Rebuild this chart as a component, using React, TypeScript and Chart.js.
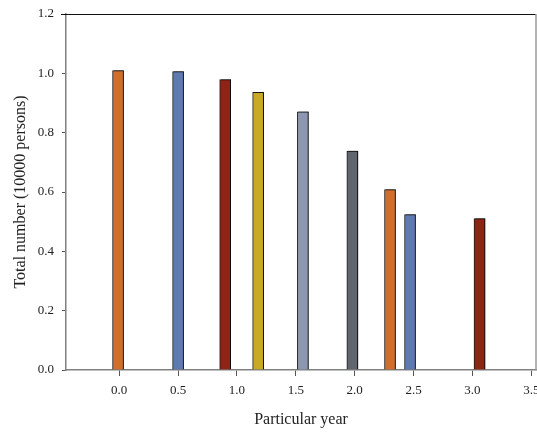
import React, { useEffect, useRef } from "react";
import { Chart, registerables } from "chart.js";

Chart.register(...registerables);

const xPositions = [-0.01, 0.5, 0.9, 1.18, 1.56, 1.98, 2.3, 2.47, 3.06];
const totals = [1.009, 1.006, 0.979, 0.936, 0.87, 0.738, 0.608, 0.524, 0.51];
const barColors = [
  "#CE6F2D",
  "#5F7AB3",
  "#8C2513",
  "#C8A923",
  "#8E97B1",
  "#61656D",
  "#CE6F2D",
  "#5F7AB3",
  "#8C2513",
];
const xTicks = [0, 0.5, 1, 1.5, 2, 2.5, 3, 3.5];
const yTicks = [0, 0.2, 0.4, 0.6, 0.8, 1.0, 1.2];
const xTitle = "Particular year";
const yTitle = "Total number (10000 persons)";

const FONT = "'Liberation Serif', 'Times New Roman', serif";

const framePlugin = {
  id: "frame",
  beforeDatasetsDraw(chart: any) {
    const ctx = chart.ctx;
    ctx.save();
    ctx.shadowColor = "rgba(0,0,0,0.45)";
    ctx.shadowOffsetX = 1.5;
    ctx.shadowOffsetY = -0.5;
    ctx.shadowBlur = 0.5;
  },
  afterDatasetsDraw(chart: any) {
    chart.ctx.restore();
  },
  afterDraw(chart: any) {
    const { ctx, chartArea } = chart;
    ctx.save();
    ctx.strokeStyle = "#111";
    ctx.lineWidth = 1;
    ctx.beginPath();
    ctx.moveTo(chartArea.left - 5, Math.round(chartArea.top) + 0.5);
    ctx.lineTo(chartArea.right, Math.round(chartArea.top) + 0.5);
    ctx.stroke();
    ctx.strokeStyle = "#9a9a9a";
    ctx.lineWidth = 1.5;
    ctx.beginPath();
    ctx.moveTo(chartArea.right, chartArea.top);
    ctx.lineTo(chartArea.right, chartArea.bottom);
    ctx.stroke();
    ctx.restore();
  },
};

export default function App() {
  const ref = useRef<HTMLCanvasElement | null>(null);
  useEffect(() => {
    if (!ref.current) return;
    const chart = new Chart(ref.current, {
      type: "bar",
      data: {
        datasets: [
          {
            data: xPositions.map((x, i) => ({ x, y: totals[i] })),
            backgroundColor: barColors,
            borderColor: "#1a1a1a",
            borderWidth: 1,
            barThickness: 11,
          },
        ],
      },
      options: {
        animation: false,
        responsive: false,
        devicePixelRatio: 1,
        layout: { padding: { top: 14, right: 1, left: 0, bottom: 0 } },
        plugins: { legend: { display: false }, tooltip: { enabled: false } },
        scales: {
          x: {
            type: "linear",
            min: -0.452,
            max: 3.54,
            offset: false,
            afterBuildTicks: (s: any) => {
              s.ticks = xTicks.map((v) => ({ value: v }));
            },
            afterFit: (s: any) => {
              s.height = 64;
              s.paddingLeft = 0;
              s.paddingRight = 0;
            },
            grid: {
              offset: false,
              drawOnChartArea: false,
              drawTicks: true,
              tickLength: 6,
              color: "#555",
            },
            border: { display: true, color: "#808080", width: 1.5 },
            ticks: {
              font: { family: FONT, size: 13 },
              color: "#222",
              padding: 7,
              maxRotation: 0,
              autoSkip: false,
              callback: (v: any) => Number(v).toFixed(1),
            },
            title: {
              display: true,
              text: xTitle,
              font: { family: FONT, size: 16 },
              color: "#222",
              padding: { top: 0, bottom: 5 },
            },
          },
          y: {
            type: "linear",
            min: 0,
            max: 1.2,
            afterBuildTicks: (s: any) => {
              s.ticks = yTicks.map((v) => ({ value: v }));
            },
            afterFit: (s: any) => {
              s.width = 66;
              s.paddingTop = 0;
              s.paddingBottom = 0;
            },
            grid: {
              offset: false,
              drawOnChartArea: false,
              drawTicks: true,
              tickLength: 4,
              color: "#555",
            },
            border: { display: true, color: "#808080", width: 1.5 },
            ticks: {
              font: { family: FONT, size: 13 },
              color: "#222",
              padding: 8,
              callback: (v: any) => Number(v).toFixed(1),
            },
            title: {
              display: true,
              text: yTitle,
              font: { family: FONT, size: 16 },
              color: "#222",
              padding: { top: 11, bottom: 0 },
            },
          },
        },
      },
      plugins: [framePlugin],
    });
    return () => chart.destroy();
  }, []);
  return (
    <div style={{ position: "fixed", left: 0, top: 0, width: 537, height: 434, background: "#fff" }}>
      <canvas ref={ref} width={537} height={434} style={{ width: 537, height: 434, display: "block" }} />
    </div>
  );
}
